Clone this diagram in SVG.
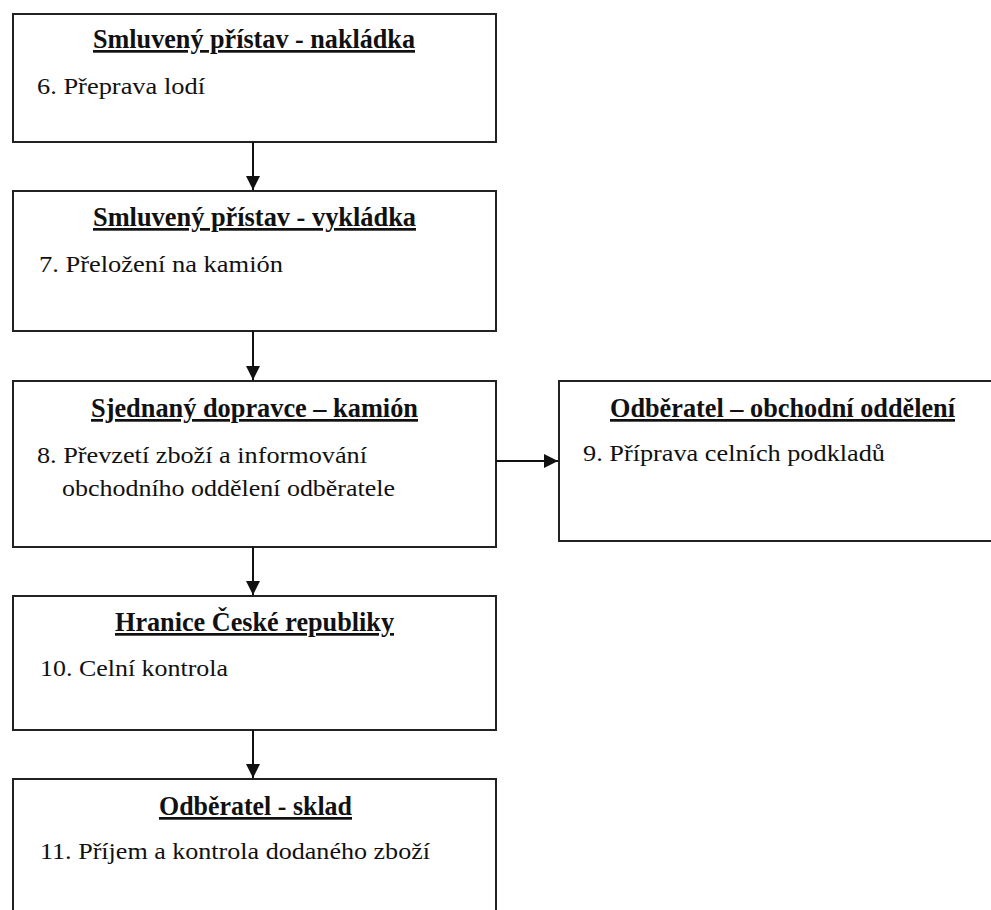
<svg xmlns="http://www.w3.org/2000/svg" width="991" height="910" viewBox="0 0 991 910">
<style>
.box{fill:#fff;stroke:#222;stroke-width:2}
.t{font-family:"Liberation Serif","Times New Roman",serif;font-size:27px;font-weight:bold;fill:#111;text-decoration:underline}
.b{font-family:"Liberation Serif","Times New Roman",serif;font-size:23px;fill:#111}
.c{stroke:#111;stroke-width:2;fill:none}
</style>
<defs>
<marker id="ah" markerUnits="userSpaceOnUse" markerWidth="14" markerHeight="14" viewBox="0 0 12 12" refX="12" refY="6" orient="auto">
<path d="M0,0 L12,6 L0,12 z" fill="#111"/>
</marker>
</defs>
<rect width="991" height="910" fill="#fff"/>
<g id="n1">
<rect class="box" x="13" y="14" width="483" height="128"/>
<text class="t" x="93" y="48" textLength="322" lengthAdjust="spacingAndGlyphs">Smluvený přístav - nakládka</text>
<text class="b" x="37" y="94" textLength="168" lengthAdjust="spacingAndGlyphs">6. Přeprava lodí</text>
</g>
<g id="n2">
<rect class="box" x="13" y="191" width="483" height="140"/>
<text class="t" x="93" y="226" textLength="323" lengthAdjust="spacingAndGlyphs">Smluvený přístav - vykládka</text>
<text class="b" x="39" y="272" textLength="244" lengthAdjust="spacingAndGlyphs">7. Přeložení na kamión</text>
</g>
<g id="n3">
<rect class="box" x="13" y="381" width="483" height="166"/>
<text class="t" x="91" y="417" textLength="327" lengthAdjust="spacingAndGlyphs">Sjednaný dopravce – kamión</text>
<text class="b" x="37" y="463" textLength="330" lengthAdjust="spacingAndGlyphs">8. Převzetí zboží a informování</text>
<text class="b" x="62" y="496" textLength="333" lengthAdjust="spacingAndGlyphs">obchodního oddělení odběratele</text>
</g>
<g id="n4">
<rect class="box" x="559" y="381" width="450" height="160"/>
<text class="t" x="610" y="417" textLength="345" lengthAdjust="spacingAndGlyphs">Odběratel – obchodní oddělení</text>
<text class="b" x="583" y="461" textLength="302" lengthAdjust="spacingAndGlyphs">9. Příprava celních podkladů</text>
</g>
<g id="n5">
<rect class="box" x="13" y="596" width="483" height="134"/>
<text class="t" x="115" y="631" textLength="279" lengthAdjust="spacingAndGlyphs">Hranice České republiky</text>
<text class="b" x="40" y="676" textLength="188" lengthAdjust="spacingAndGlyphs">10. Celní kontrola</text>
</g>
<g id="n6">
<rect class="box" x="13" y="779" width="483" height="150"/>
<text class="t" x="159" y="815" textLength="193" lengthAdjust="spacingAndGlyphs">Odběratel - sklad</text>
<text class="b" x="40" y="859" textLength="390" lengthAdjust="spacingAndGlyphs">11. Příjem a kontrola dodaného zboží</text>
</g>
<g id="connectors">
<line class="c" x1="253" y1="142" x2="253" y2="190" marker-end="url(#ah)"/>
<line class="c" x1="253" y1="331" x2="253" y2="380" marker-end="url(#ah)"/>
<line class="c" x1="253" y1="547" x2="253" y2="595" marker-end="url(#ah)"/>
<line class="c" x1="253" y1="730" x2="253" y2="778" marker-end="url(#ah)"/>
<line class="c" x1="496" y1="461" x2="558" y2="461" marker-end="url(#ah)"/>
</g>
</svg>
